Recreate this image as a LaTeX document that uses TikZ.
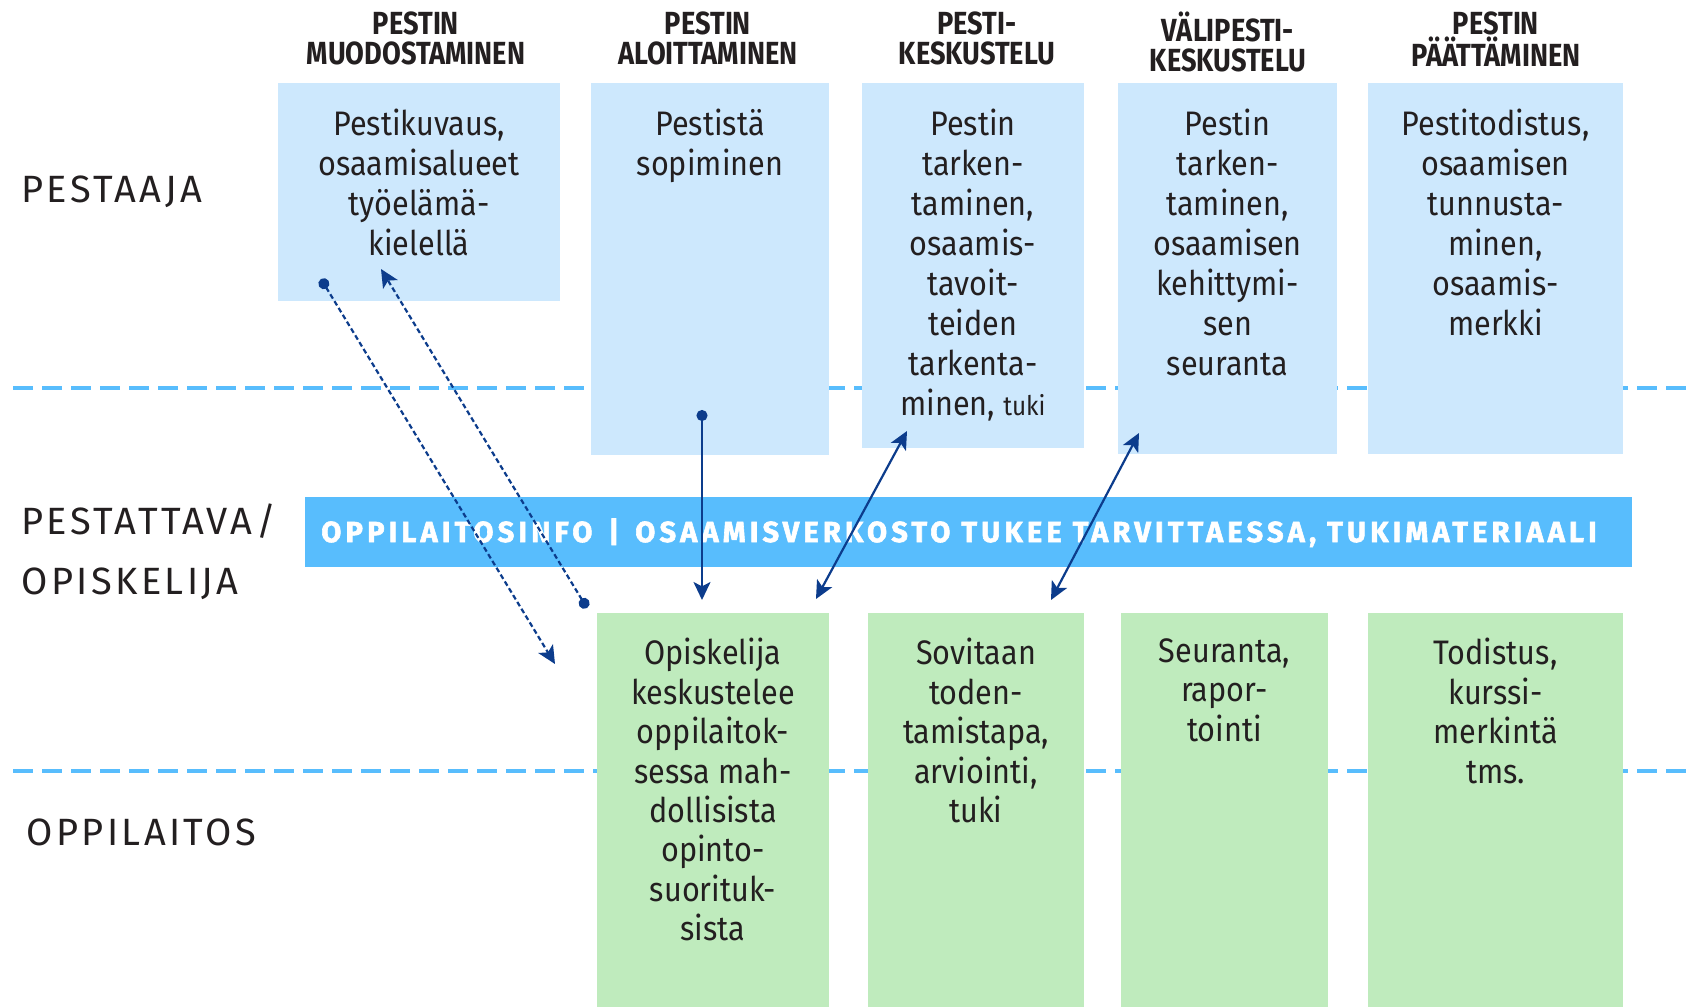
\documentclass[tikz,border=0pt]{standalone}
\usepackage{fontspec}
\setmainfont{Fira Sans}[FakeStretch=0.9]
\newfontfamily\headfont{Fira Sans}[FakeStretch=0.85]
\newfontfamily\rowfont{Fira Sans}[LetterSpace=9]
\newfontfamily\bandfont{Fira Sans}[LetterSpace=14.5, BoldFeatures={FakeBold=2}]
\usetikzlibrary{arrows.meta}
\definecolor{topblue}{HTML}{CDE8FD}
\definecolor{stgreen}{HTML}{BFEBBD}
\definecolor{bandblue}{HTML}{58BDFD}
\definecolor{navy}{HTML}{0C3C8C}
\definecolor{ink}{HTML}{231F20}
\begin{document}
\begin{tikzpicture}[x=0.5pt,y=-0.5pt,
  topbox/.style={fill=topblue, draw=none, inner sep=0pt, outer sep=0pt, minimum height=#1},
  stbox/.style={fill=stgreen, draw=none, inner sep=0pt, outer sep=0pt, minimum height=197pt},
  boxtext/.style={anchor=north, inner sep=0pt, align=center, text=ink,
     font=\fontsize{17}{20}\selectfont, execute at begin node={\rule{0pt}{14pt}}},
  sttext/.style={boxtext, font=\fontsize{17}{19.7}\selectfont},
  headtext/.style={anchor=north, inner sep=0pt, align=center, text=ink,
     font=\headfont\bfseries\fontsize{16}{15}\selectfont, execute at begin node={\rule{0pt}{14pt}}},
  rowtext/.style={anchor=base west, inner sep=0pt, text=ink, font=\rowfont\fontsize{19}{22}\selectfont},
  bandtext/.style={anchor=base, inner sep=0pt, text=white, font=\bandfont\bfseries\fontsize{14.5}{16}\selectfont},
  sepline/.style={bandblue, line width=2.2pt, dash pattern=on 10pt off 4.5pt},
  conn/.style={navy, line width=1.1pt},
  dotconn/.style={conn, dash pattern=on 2.5pt off 1.5pt},
  dottip/.tip={Circle[length=5.5pt]},
  headtip/.tip={Stealth[length=9pt,width=8.5pt,inset=2.2pt]}
]
\useasboundingbox (0,0) rectangle (1688,1007);
\fill[white] (0,0) rectangle (1688,1007);

% separator lines
\coordinate (s1l) at (13,388); \coordinate (s1r) at (1688,388);
\coordinate (s2l) at (13,771); \coordinate (s2r) at (1688,771);
\draw[sepline] (s1l) -- (s1r);
\draw[sepline] (s2l) -- (s2r);

% headers
\node[headtext] (h1) at (416,11) {PESTIN\\MUODOSTAMINEN};
\node[headtext] (h2) at (708,11) {PESTIN\\ALOITTAMINEN};
\node[headtext] (h3) at (977,11) {PESTI-\\KESKUSTELU};
\node[headtext] (h4) at (1228,11) {VÄLIPESTI-\\KESKUSTELU};
\node[headtext] (h5) at (1496,11) {PESTIN\\PÄÄTTÄMINEN};

% row labels
\node[rowtext] (r1) at (21,202) {PESTAAJA};
\node[rowtext] (r2) at (21,534) {PESTATTAVA/};
\node[rowtext] (r3) at (21,594) {OPISKELIJA};
\node[rowtext] (r4) at (26,845) {OPPILAITOS};

% top boxes
\node[topbox=109pt, minimum width=141pt] (b1) at (419,192) {};
\node[topbox=186pt, minimum width=119pt] (b2) at (710,269) {};
\node[topbox=182.5pt, minimum width=111pt] (b3) at (973,265.5) {};
\node[topbox=185.5pt, minimum width=109.5pt] (b4) at (1227.5,268.5) {};
\node[topbox=185.5pt, minimum width=127.5pt] (b5) at (1495.5,268.5) {};

\node[boxtext] (b1t) at (419,109) {Pestikuvaus,\\osaamisalueet\\työelämä-\\kielellä};
\node[boxtext] (b2t) at (710,109) {Pestistä\\sopiminen};
\node[boxtext] (b3t) at (973,109) {Pestin\\tarken-\\taminen,\\osaamis-\\tavoit-\\teiden\\tarkenta-\\minen, {\fontsize{13.5}{20}\selectfont tuki}};
\node[boxtext] (b4t) at (1227.5,109) {Pestin\\tarken-\\taminen,\\osaamisen\\kehittymi-\\sen\\seuranta};
\node[boxtext] (b5t) at (1495.5,109) {Pestitodistus,\\osaamisen\\tunnusta-\\minen,\\osaamis-\\merkki};

% band
\node[fill=bandblue, inner sep=0pt, minimum width=663.5pt, minimum height=35pt] (band) at (968.5,532) {};
\node[bandtext] (bandt) at (959,542) {OPPILAITOSINFO\hspace{8pt}|\hspace{8pt}OSAAMISVERKOSTO TUKEE TARVITTAESSA, TUKIMATERIAALI};

% green boxes
\node[stbox, minimum width=116pt] (g1) at (713,810) {};
\node[stbox, minimum width=108pt] (g2) at (976,810) {};
\node[stbox, minimum width=103.5pt] (g3) at (1224.5,810) {};
\node[stbox, minimum width=127.5pt] (g4) at (1495.5,810) {};

\node[sttext] (g1t) at (713,638) {Opiskelija\\keskustelee\\oppilaitok-\\sessa mah-\\dollisista\\opinto-\\suorituk-\\sista};
\node[sttext] (g2t) at (976,638) {Sovitaan\\toden-\\tamistapa,\\arviointi,\\tuki};
\node[sttext] (g3t) at (1224.5,638) {Seuranta,\\rapor-\\tointi};
\node[sttext] (g4t) at (1495.5,638) {Todistus,\\kurssi-\\merkintä\\tms.};

% connector end points
\coordinate (a1s) at (321,279); \coordinate (a1e) at (555,664);
\coordinate (a2s) at (587,608); \coordinate (a2e) at (381,269);
\coordinate (a3s) at (702,410); \coordinate (a3e) at (702,600);
\coordinate (a4s) at (907,431); \coordinate (a4e) at (816,599);
\coordinate (a5s) at (1139,433); \coordinate (a5e) at (1051,600);

\draw[dotconn, {dottip}-{headtip}] (a1s) -- (a1e);
\draw[dotconn, {dottip}-{headtip}] (a2s) -- (a2e);
\draw[conn, {dottip}-{headtip}] (a3s) -- (a3e);
\draw[conn, {headtip}-{headtip}] (a4s) -- (a4e);
\draw[conn, {headtip}-{headtip}] (a5s) -- (a5e);
\end{tikzpicture}
\end{document}
